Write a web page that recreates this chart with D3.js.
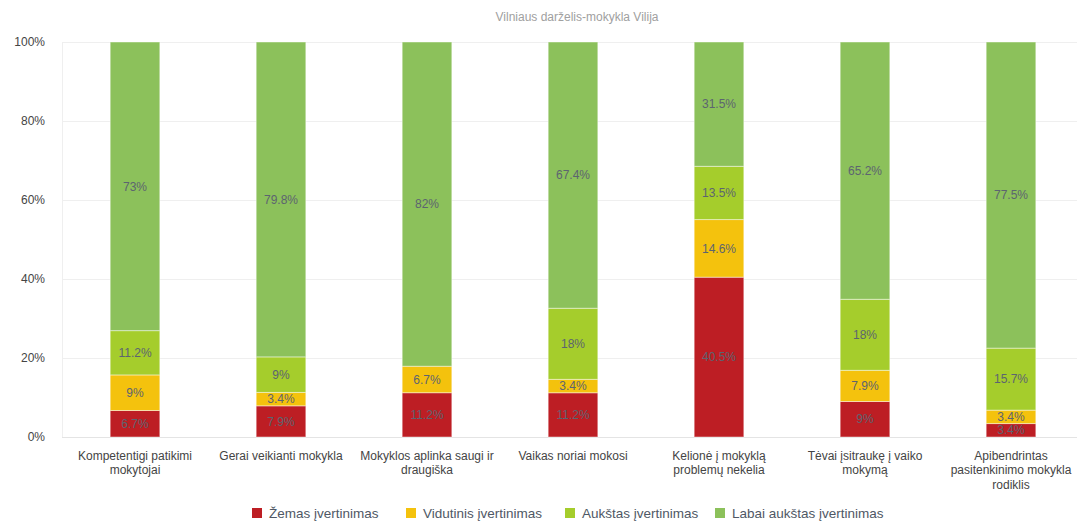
<!DOCTYPE html>
<html><head><meta charset="utf-8">
<script src="https://cdn.jsdelivr.net/npm/d3@7"></script>
<style>
body{margin:0;background:#fff;font-family:"Liberation Sans",Arial,sans-serif;}
svg{display:block;}
</style></head>
<body><svg id="c" width="1077" height="523"></svg>
<script>
const title = "Vilniaus darželis-mokykla Vilija";
const categories = [
  "Kompetentigi patikimi mokytojai",
  "Gerai veikianti mokykla",
  "Mokyklos aplinka saugi ir draugiška",
  "Vaikas noriai mokosi",
  "Kelionė į mokyklą problemų nekelia",
  "Tėvai įsitraukę į vaiko mokymą",
  "Apibendrintas pasitenkinimo mokykla rodiklis"
];
const seriesNames = ["Žemas įvertinimas","Vidutinis įvertinimas","Aukštas įvertinimas","Labai aukštas įvertinimas"];
const zemas     = [6.7, 7.9, 11.2, 11.2, 40.5, 9, 3.4];
const vidutinis = [9, 3.4, 6.7, 3.4, 14.6, 7.9, 3.4];
const aukstas   = [11.2, 9, 0, 18, 13.5, 18, 15.7];
const labaiAukstas = [73, 79.8, 82, 67.4, 31.5, 65.2, 77.5];
const yTicks = [0, 20, 40, 60, 80, 100];
const colors = ["#bd1e24","#f4c20d","#a5cd2c","#8cc15b"];

const svg = d3.select("#c");
const W = 1077, H = 523;
const m = {left:62, right:-7, top:42, bottom:86};
const x = d3.scaleBand().domain(categories).range([m.left, W - m.right]).paddingInner(0.66).paddingOuter(0.33);
const y = d3.scaleLinear().domain([0,100]).range([H - m.bottom, m.top]);

// title
svg.append("text").attr("x", 577).attr("y", 21).attr("text-anchor","middle")
  .attr("font-size",12).attr("fill","#a0a0a0").text(title);

// grid
svg.append("g").selectAll("line").data(yTicks).join("line")
  .attr("x1", m.left).attr("x2", W).attr("y1", d=>y(d)+0.5).attr("y2", d=>y(d)+0.5)
  .attr("stroke", d=> d===0 ? "#e4e4e4" : "#efefef").attr("stroke-width",1);
svg.append("line").attr("x1", m.left+0.5).attr("x2", m.left+0.5).attr("y1", y(100)).attr("y2", y(0))
  .attr("stroke","#efefef");

// y axis labels
svg.append("g").selectAll("text").data(yTicks).join("text")
  .attr("x", 45).attr("y", d=>y(d)).attr("dy","0.35em").attr("text-anchor","end")
  .attr("font-size",12).attr("fill","#444").text(d=>d+"%");

// stacked data
const rows = categories.map((c,i)=>({cat:c, s0:zemas[i], s1:vidutinis[i], s2:aukstas[i], s3:labaiAukstas[i]}));
const stack = d3.stack().keys(["s0","s1","s2","s3"]).offset(d3.stackOffsetExpand);
const layers = stack(rows);

const g = svg.append("g");
layers.forEach((layer, li) => {
  g.append("g").selectAll("rect").data(layer).join("rect")
    .attr("x", d=>x(d.data.cat)).attr("width", x.bandwidth())
    .attr("y", d=>y(d[1]*100)).attr("height", d=>Math.max(0, y(d[0]*100)-y(d[1]*100)))
    .attr("fill", colors[li]).attr("stroke","rgba(255,255,255,0.45)").attr("stroke-width",1);
});
layers.forEach((layer, li) => {
  g.append("g").selectAll("text").data(layer.filter(d=>d.data[layer.key]>0)).join("text")
    .attr("x", d=>x(d.data.cat)+x.bandwidth()/2)
    .attr("y", d=>(y(d[0]*100)+y(d[1]*100))/2).attr("dy","0.35em")
    .attr("text-anchor","middle").attr("font-size",12).attr("fill","#5c6470")
    .text(d=>d.data[layer.key]+"%");
});

// category labels with wrapping
const catG = svg.append("g");
categories.forEach(c => {
  const t = catG.append("text").attr("x", x(c)+x.bandwidth()/2).attr("y", 460)
    .attr("text-anchor","middle").attr("font-size",12).attr("fill","#444");
  const words = c.split(" ");
  let line = [], lineNo = 0;
  let ts = t.append("tspan").attr("x", x(c)+x.bandwidth()/2).attr("dy",0);
  words.forEach(w => {
    line.push(w);
    ts.text(line.join(" "));
    if (ts.node().getComputedTextLength() > 140 && line.length > 1) {
      line.pop(); ts.text(line.join(" "));
      line = [w]; lineNo++;
      ts = t.append("tspan").attr("x", x(c)+x.bandwidth()/2).attr("dy","1.2em").text(w);
    }
  });
});

// legend
const legX = [252, 406, 565, 715];
const lg = svg.append("g");
seriesNames.forEach((n,i)=>{
  lg.append("rect").attr("x", legX[i]).attr("y", 508).attr("width",10).attr("height",10).attr("fill",colors[i]);
  lg.append("text").attr("x", legX[i]+17).attr("y", 513).attr("dy","0.35em")
    .attr("font-size",13.5).attr("fill","#4f5865").text(n);
});
</script></body></html>
